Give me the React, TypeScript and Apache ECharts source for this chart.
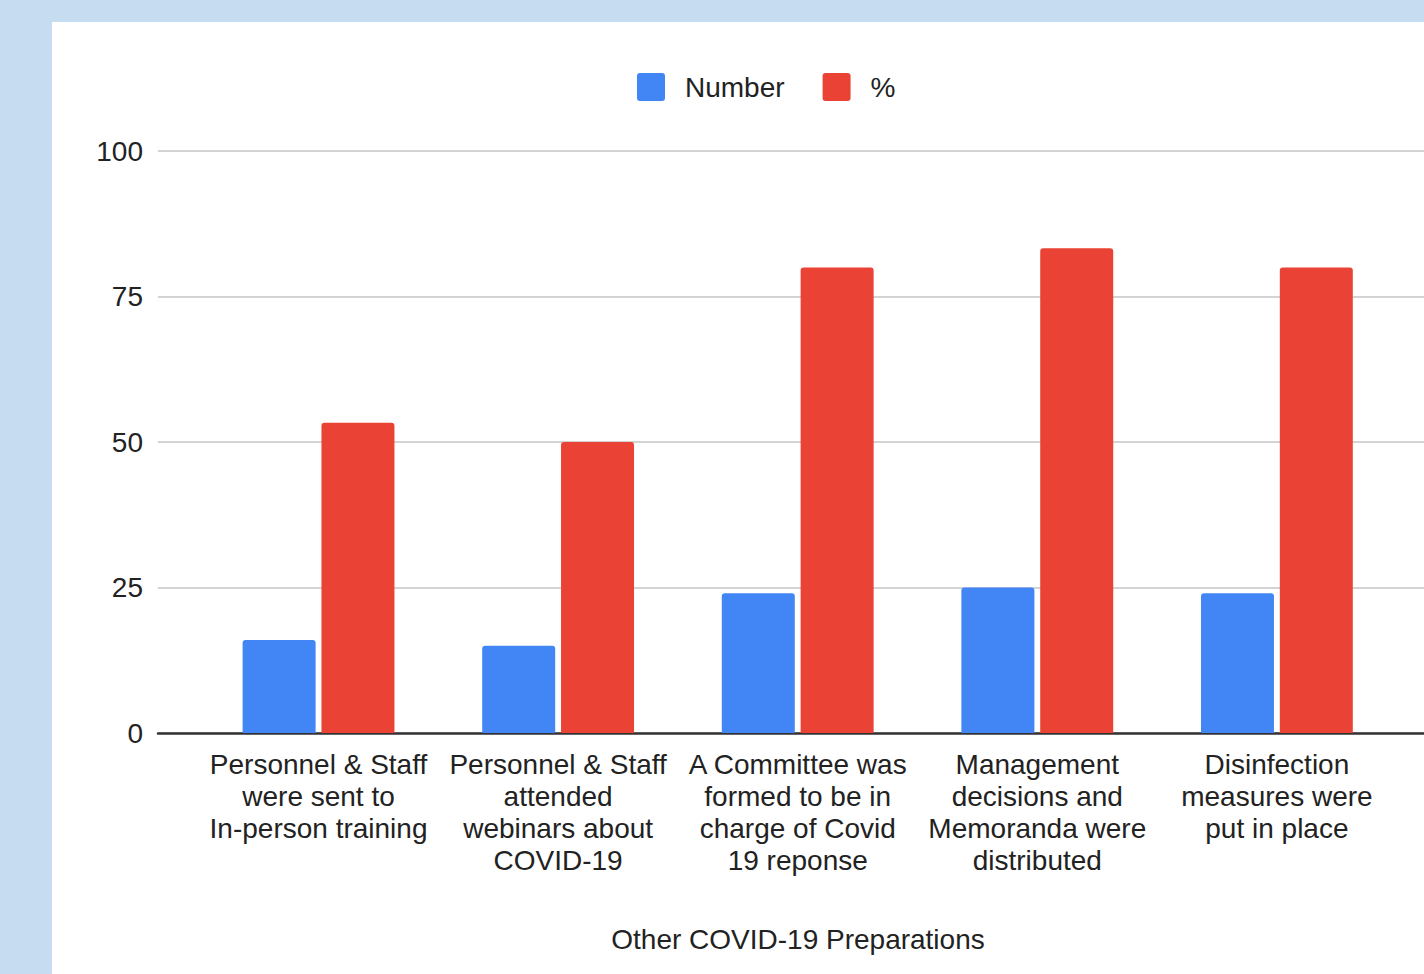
import React, { useEffect, useRef } from "react";
import * as echarts from "echarts";

const categories = [
  "Personnel & Staff\nwere sent to\nIn-person training",
  "Personnel & Staff\nattended\nwebinars about\nCOVID-19",
  "A Committee was\nformed to be in\ncharge of Covid\n19 reponse",
  "Management\ndecisions and\nMemoranda were\ndistributed",
  "Disinfection\nmeasures were\nput in place",
];
const numberValues = [16, 15, 24, 25, 24];
const percentValues = [53.3, 50, 80, 83.3, 80];
const yTicks = [0, 25, 50, 75, 100];

const FONT = '"Liberation Sans", Arial, Helvetica, sans-serif';
// square legend swatch with slightly rounded corners
const SWATCH =
  "path://M3,0H25A3,3 0 0 1 28,3V25A3,3 0 0 1 25,28H3A3,3 0 0 1 0,25V3A3,3 0 0 1 3,0Z";

export default function App() {
  const ref = useRef<HTMLDivElement>(null);

  useEffect(() => {
    if (!ref.current) return;
    const chart = echarts.init(ref.current, undefined, { renderer: "svg" });
    const positions = categories.map((_, i) => i);

    chart.setOption({
      animation: false,
      textStyle: { fontFamily: FONT },
      legend: {
        left: 632,
        top: 68,
        itemWidth: 28,
        itemHeight: 28,
        itemGap: 38,
        icon: SWATCH,
        textStyle: { fontSize: 28, color: "#222", fontFamily: FONT, padding: [0, 0, 0, 15] },
        data: ["Number", "%"],
      },
      grid: { left: 158, right: 0, top: 151, bottom: 241 },
      xAxis: {
        type: "value",
        min: -0.67,
        max: 4.614,
        name: "Other COVID-19 Preparations",
        nameLocation: "middle",
        nameGap: 192,
        nameTextStyle: { fontSize: 28, color: "#222", fontFamily: FONT, padding: [0, 0, 0, 14] },
        axisLine: { show: true, lineStyle: { color: "#333", width: 2.5 } },
        axisTick: { show: false },
        splitLine: { show: false },
        axisLabel: {
          customValues: positions,
          formatter: (v: number) => categories[Math.round(v)] ?? "",
          fontSize: 28,
          lineHeight: 32,
          color: "#222",
          fontFamily: FONT,
          margin: 15,
          align: "center",
        },
      },
      yAxis: {
        type: "value",
        min: 0,
        max: 100,
        interval: 25,
        axisLine: { show: false },
        axisTick: { show: false },
        axisLabel: {
          fontSize: 28,
          color: "#222",
          fontFamily: FONT,
          margin: 15,
          customValues: yTicks,
        },
        splitLine: { show: true, lineStyle: { color: "#d3d3d3", width: 2 } },
      },
      series: [
        {
          name: "Number",
          type: "bar",
          barWidth: 73,
          barGap: "8%",
          itemStyle: { color: "#4285F4", borderRadius: [3, 3, 0, 0] },
          data: numberValues.map((v, i) => [positions[i], v]),
        },
        {
          name: "%",
          type: "bar",
          barWidth: 73,
          barGap: "8%",
          itemStyle: { color: "#EA4335", borderRadius: [3, 3, 0, 0] },
          data: percentValues.map((v, i) => [positions[i], v]),
        },
      ],
    });

    return () => chart.dispose();
  }, []);

  return (
    <div
      style={{
        position: "fixed",
        left: 0,
        top: 0,
        width: 1424,
        height: 974,
        background: "#c6ddf1",
        overflow: "hidden",
      }}
    >
      <div
        style={{
          position: "absolute",
          left: 52,
          top: 22,
          right: 0,
          bottom: 0,
          background: "#ffffff",
        }}
      />
      <div
        ref={ref}
        style={{ position: "absolute", left: 0, top: 0, width: 1424, height: 974 }}
      />
    </div>
  );
}
